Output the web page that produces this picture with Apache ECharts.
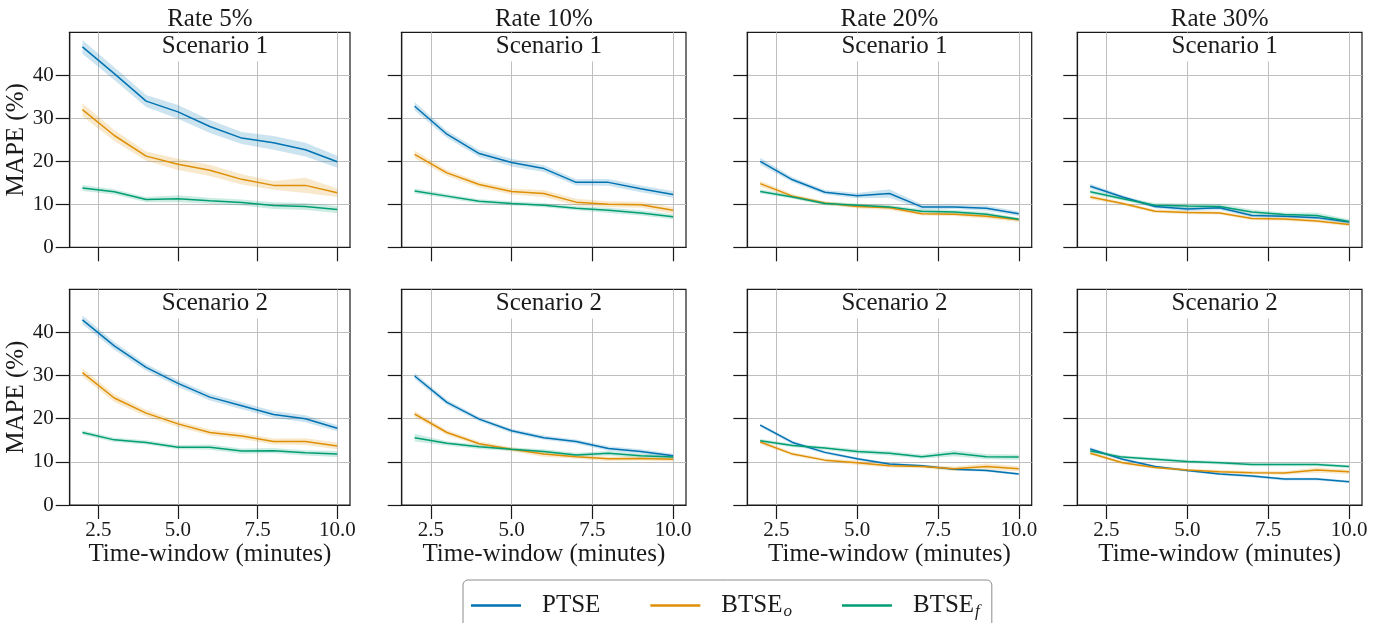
<!DOCTYPE html>
<html>
<head>
<meta charset="utf-8">
<script src="https://cdn.jsdelivr.net/npm/echarts@6/dist/echarts.min.js"></script>
<style>html,body{margin:0;padding:0;background:#fff}#c{width:1387px;height:623px}</style>
</head>
<body>
<div id="c"></div>
<script>
// ---------- data ----------
const windows = [2, 3, 4, 5, 6, 7, 8, 9, 10];
const rateTitles = ['Rate 5%', 'Rate 10%', 'Rate 20%', 'Rate 30%'];
const scenarioTitles = ['Scenario 1', 'Scenario 2'];
const methodNames = ['PTSE', 'BTSE_o', 'BTSE_f'];
const xTicks = [2.5, 5, 7.5, 10];
const yTicks = [0, 10, 20, 30, 40];

// Scenario 1 means
const ptse_r5_s1  = [46.6, 40.4, 34.0, 31.5, 28.1, 25.4, 24.3, 22.7, 19.9];
const btseo_r5_s1 = [32.0, 26.0, 21.2, 19.3, 17.9, 15.8, 14.4, 14.4, 12.7];
const btsef_r5_s1 = [13.8, 12.9, 11.1, 11.3, 10.8, 10.4, 9.7, 9.5, 8.8];
const ptse_r10_s1  = [32.8, 26.3, 21.8, 19.7, 18.3, 15.1, 15.1, 13.6, 12.3];
const btseo_r10_s1 = [21.6, 17.3, 14.6, 13.0, 12.5, 10.5, 10.0, 9.9, 8.6];
const btsef_r10_s1 = [13.1, 11.9, 10.7, 10.2, 9.8, 9.1, 8.6, 8.0, 7.1];
const ptse_r20_s1  = [20.0, 15.7, 12.8, 12.0, 12.5, 9.4, 9.4, 9.1, 7.8];
const btseo_r20_s1 = [14.8, 11.9, 10.3, 9.5, 9.2, 7.8, 7.7, 7.2, 6.4];
const btsef_r20_s1 = [13.0, 11.7, 10.2, 9.8, 9.4, 8.4, 8.2, 7.7, 6.5];
const ptse_r30_s1  = [14.2, 11.7, 9.5, 8.9, 9.2, 7.4, 7.2, 6.9, 5.9];
const btseo_r30_s1 = [11.7, 10.2, 8.4, 8.1, 8.0, 6.7, 6.6, 6.1, 5.3];
const btsef_r30_s1 = [12.9, 11.3, 9.8, 9.6, 9.5, 8.2, 7.6, 7.4, 6.0];
// Scenario 2 means
const ptse_r5_s2  = [42.9, 36.9, 31.9, 28.2, 25.0, 23.0, 21.0, 20.0, 17.8];
const btseo_r5_s2 = [30.7, 24.8, 21.3, 18.8, 16.8, 16.0, 14.7, 14.7, 13.7];
const btsef_r5_s2 = [16.8, 15.1, 14.5, 13.4, 13.4, 12.5, 12.6, 12.1, 11.8];
const ptse_r10_s2  = [29.9, 23.8, 19.9, 17.2, 15.6, 14.7, 13.1, 12.4, 11.4];
const btseo_r10_s2 = [21.1, 16.8, 14.2, 12.9, 11.8, 11.2, 10.7, 10.8, 10.6];
const btsef_r10_s2 = [15.6, 14.3, 13.5, 12.9, 12.4, 11.6, 12.0, 11.4, 11.1];
const ptse_r20_s2  = [18.5, 14.5, 12.2, 10.7, 9.5, 9.1, 8.3, 8.0, 7.2];
const btseo_r20_s2 = [14.6, 11.8, 10.4, 9.8, 9.1, 8.9, 8.4, 8.9, 8.4];
const btsef_r20_s2 = [14.9, 13.8, 13.2, 12.4, 12.0, 11.2, 12.0, 11.2, 11.1];
const ptse_r30_s2  = [13.0, 10.6, 8.9, 8.0, 7.2, 6.7, 6.0, 6.0, 5.4];
const btseo_r30_s2 = [12.0, 9.8, 8.7, 8.1, 7.7, 7.5, 7.4, 8.1, 7.7];
const btsef_r30_s2 = [12.5, 11.1, 10.6, 10.1, 9.8, 9.4, 9.4, 9.4, 8.9];

// confidence band half-widths
const ptse_r5_s1_ci  = [1.6, 1.5, 1.4, 1.6, 1.5, 1.4, 1.6, 1.6, 1.4];
const btseo_r5_s1_ci = [1.5, 1.3, 1.1, 1.3, 1.3, 1.2, 1.0, 1.8, 1.0];
const btsef_r5_s1_ci = [0.7, 0.6, 0.6, 0.8, 0.7, 0.7, 0.8, 0.8, 0.8];
const ptse_r10_s1_ci  = [1.0, 0.8, 0.8, 0.9, 0.8, 0.7, 0.8, 0.8, 0.8];
const btseo_r10_s1_ci = [0.9, 0.7, 0.7, 0.7, 0.8, 0.8, 0.7, 0.7, 0.8];
const btsef_r10_s1_ci = [0.6, 0.5, 0.5, 0.5, 0.5, 0.5, 0.6, 0.6, 0.6];
const ptse_r20_s1_ci  = [0.8, 0.6, 0.5, 0.6, 1.0, 0.6, 0.5, 0.6, 0.5];
const btseo_r20_s1_ci = [0.7, 0.5, 0.4, 0.5, 0.5, 0.4, 0.4, 0.5, 0.5];
const btsef_r20_s1_ci = [0.5, 0.4, 0.4, 0.4, 0.4, 0.5, 0.5, 0.5, 0.4];
const ptse_r30_s1_ci  = [0.6, 0.4, 0.4, 0.5, 0.5, 0.4, 0.4, 0.4, 0.4];
const btseo_r30_s1_ci = [0.5, 0.4, 0.4, 0.4, 0.4, 0.4, 0.4, 0.4, 0.4];
const btsef_r30_s1_ci = [0.5, 0.4, 0.5, 0.6, 0.6, 0.6, 0.5, 0.7, 0.5];
const ptse_r5_s2_ci  = [1.0, 0.9, 0.8, 0.8, 0.8, 0.8, 0.8, 0.8, 0.7];
const btseo_r5_s2_ci = [1.0, 0.9, 0.8, 0.7, 0.7, 0.7, 0.7, 0.8, 0.8];
const btsef_r5_s2_ci = [0.5, 0.5, 0.5, 0.5, 0.6, 0.6, 0.6, 0.6, 0.7];
const ptse_r10_s2_ci  = [0.7, 0.6, 0.5, 0.5, 0.5, 0.5, 0.5, 0.5, 0.5];
const btseo_r10_s2_ci = [0.7, 0.6, 0.5, 0.5, 0.6, 0.5, 0.5, 0.5, 0.5];
const btsef_r10_s2_ci = [0.9, 0.5, 0.5, 0.4, 0.5, 0.5, 0.5, 0.5, 0.5];
const ptse_r20_s2_ci  = [0.4, 0.4, 0.4, 0.3, 0.3, 0.3, 0.3, 0.3, 0.3];
const btseo_r20_s2_ci = [0.5, 0.4, 0.4, 0.5, 0.4, 0.4, 0.5, 0.7, 0.6];
const btsef_r20_s2_ci = [0.4, 0.4, 0.4, 0.5, 0.5, 0.5, 0.7, 0.6, 0.6];
const ptse_r30_s2_ci  = [0.4, 0.3, 0.3, 0.3, 0.3, 0.3, 0.3, 0.3, 0.3];
const btseo_r30_s2_ci = [0.4, 0.4, 0.3, 0.3, 0.4, 0.4, 0.4, 0.6, 0.5];
const btsef_r30_s2_ci = [0.4, 0.4, 0.4, 0.4, 0.4, 0.4, 0.4, 0.4, 0.4];

// panel table (row = scenario, col = rate)
const panelMeans = [
  [[ptse_r5_s1, btseo_r5_s1, btsef_r5_s1], [ptse_r10_s1, btseo_r10_s1, btsef_r10_s1],
   [ptse_r20_s1, btseo_r20_s1, btsef_r20_s1], [ptse_r30_s1, btseo_r30_s1, btsef_r30_s1]],
  [[ptse_r5_s2, btseo_r5_s2, btsef_r5_s2], [ptse_r10_s2, btseo_r10_s2, btsef_r10_s2],
   [ptse_r20_s2, btseo_r20_s2, btsef_r20_s2], [ptse_r30_s2, btseo_r30_s2, btsef_r30_s2]]
];
const panelCI = [
  [[ptse_r5_s1_ci, btseo_r5_s1_ci, btsef_r5_s1_ci], [ptse_r10_s1_ci, btseo_r10_s1_ci, btsef_r10_s1_ci],
   [ptse_r20_s1_ci, btseo_r20_s1_ci, btsef_r20_s1_ci], [ptse_r30_s1_ci, btseo_r30_s1_ci, btsef_r30_s1_ci]],
  [[ptse_r5_s2_ci, btseo_r5_s2_ci, btsef_r5_s2_ci], [ptse_r10_s2_ci, btseo_r10_s2_ci, btsef_r10_s2_ci],
   [ptse_r20_s2_ci, btseo_r20_s2_ci, btsef_r20_s2_ci], [ptse_r30_s2_ci, btseo_r30_s2_ci, btsef_r30_s2_ci]]
];

// ---------- style / layout ----------
const FONT = 'Liberation Serif';
const INK = '#1a1a1a';
const colors = ['#0173b2', '#de8f05', '#029e73'];
const colLeft = [69.7, 401.7, 747.3, 1077.3];
const colWidth = [280.3, 284.3, 284.4, 284.7];
const rowTop = [32.3, 289.3];
const rowHeight = [215, 215.7];

function bandSeries(gi, lo, hi, color) {
  return {
    type: 'custom', xAxisIndex: gi, yAxisIndex: gi, silent: true, z: 1, clip: true,
    data: windows.map((x, i) => [x, lo[i], hi[i]]),
    encode: {x: 0, y: [1, 2]},
    renderItem: function (params, api) {
      if (params.dataIndex !== 0) return null;
      const pts = [];
      for (let i = 0; i < windows.length; i++) pts.push(api.coord([windows[i], hi[i]]));
      for (let i = windows.length - 1; i >= 0; i--) pts.push(api.coord([windows[i], lo[i]]));
      return {type: 'polygon', shape: {points: pts}, style: {fill: color, opacity: 0.2}};
    }
  };
}

const grids = [], xAxes = [], yAxes = [], series = [], titles = [];
for (let r = 0; r < 2; r++) {
  for (let c = 0; c < 4; c++) {
    const gi = r * 4 + c;
    grids.push({left: colLeft[c], top: rowTop[r], width: colWidth[c], height: rowHeight[r],
      show: true, borderColor: INK, borderWidth: 1.2, backgroundColor: 'transparent'});
    xAxes.push({
      gridIndex: gi, type: 'value', min: 1.6, max: 10.4,
      axisLine: {show: true, onZero: false, lineStyle: {color: INK, width: 1.2}},
      axisTick: {show: true, inside: false, length: 14, customValues: xTicks, lineStyle: {color: INK, width: 1.2}},
      axisLabel: {show: r === 1, customValues: xTicks, formatter: v => Number(v).toFixed(1),
        margin: 15, fontSize: 21, color: INK, fontFamily: FONT},
      splitLine: {show: true, lineStyle: {color: '#bfbfbf', width: 1}},
      name: r === 1 ? 'Time-window (minutes)' : '', nameLocation: 'middle', nameGap: 35,
      nameTextStyle: {fontSize: 25, color: INK, fontFamily: FONT}
    });
    yAxes.push({
      gridIndex: gi, type: 'value', min: 0, max: 50,
      axisLine: {show: true, lineStyle: {color: INK, width: 1.2}},
      axisTick: {show: true, inside: false, length: 14, customValues: yTicks, lineStyle: {color: INK, width: 1.2}},
      axisLabel: {show: c === 0, customValues: yTicks, margin: 16, fontSize: 21, color: INK, fontFamily: FONT},
      splitLine: {show: true, lineStyle: {color: '#bfbfbf', width: 1}},
      name: c === 0 ? 'MAPE (%)' : '', nameLocation: 'middle', nameGap: 40, nameRotate: 90,
      nameTextStyle: {fontSize: 25, color: INK, fontFamily: FONT}
    });
    titles.push({
      text: scenarioTitles[r], left: colLeft[c] + colWidth[c] / 2, top: rowTop[r] + 1.3,
      textAlign: 'center', backgroundColor: '#fff', padding: [0, 5, 2, 5],
      textStyle: {fontSize: 25, lineHeight: 26, fontWeight: 'normal', color: INK, fontFamily: FONT}
    });
    for (let k = 0; k < 3; k++) {
      const m = panelMeans[r][c][k], ci = panelCI[r][c][k];
      const lo = m.map((v, i) => v - ci[i]);
      const hi = m.map((v, i) => v + ci[i]);
      series.push(bandSeries(gi, lo, hi, colors[k]));
    }
    for (let k = 0; k < 3; k++) {
      const m = panelMeans[r][c][k];
      series.push({
        name: methodNames[k], type: 'line', xAxisIndex: gi, yAxisIndex: gi,
        symbol: 'none', color: colors[k], lineStyle: {color: colors[k], width: 1.5}, z: 3,
        data: windows.map((x, i) => [x, m[i]])
      });
    }
  }
}
for (let c = 0; c < 4; c++) {
  titles.push({
    text: rateTitles[c], left: colLeft[c] + colWidth[c] / 2, top: 5, textAlign: 'center', padding: 0,
    textStyle: {fontSize: 25, lineHeight: 28, fontWeight: 'normal', color: INK, fontFamily: FONT}
  });
}

const chart = echarts.init(document.getElementById('c'), null, {renderer: 'canvas'});
chart.setOption({
  animation: false,
  backgroundColor: '#fff',
  title: titles,
  grid: grids,
  xAxis: xAxes,
  yAxis: yAxes,
  legend: {
    data: methodNames.map((n, k) => ({name: n, icon: 'rect', itemStyle: {color: colors[k]}})),
    left: 463, top: 580, orient: 'horizontal',
    itemWidth: 50, itemHeight: 2.5, itemGap: 50,
    padding: [11, 12, 20, 8],
    borderColor: '#8c8c8c', borderWidth: 1, borderRadius: 5, backgroundColor: '#fff',
    formatter: n => n === 'PTSE' ? '{m|PTSE}' : '{m|BTSE}{s|' + n.slice(5) + '}',
    textStyle: {
      color: INK, fontFamily: FONT, fontSize: 25, padding: [0, 0, 0, 16],
      rich: {
        m: {fontSize: 25, fontFamily: FONT, color: INK, lineHeight: 30},
        s: {fontSize: 17, fontFamily: FONT, fontStyle: 'italic', color: INK, padding: [12, 0, 0, 1], lineHeight: 30}
      }
    }
  },
  series: series
});
</script>
</body>
</html>
